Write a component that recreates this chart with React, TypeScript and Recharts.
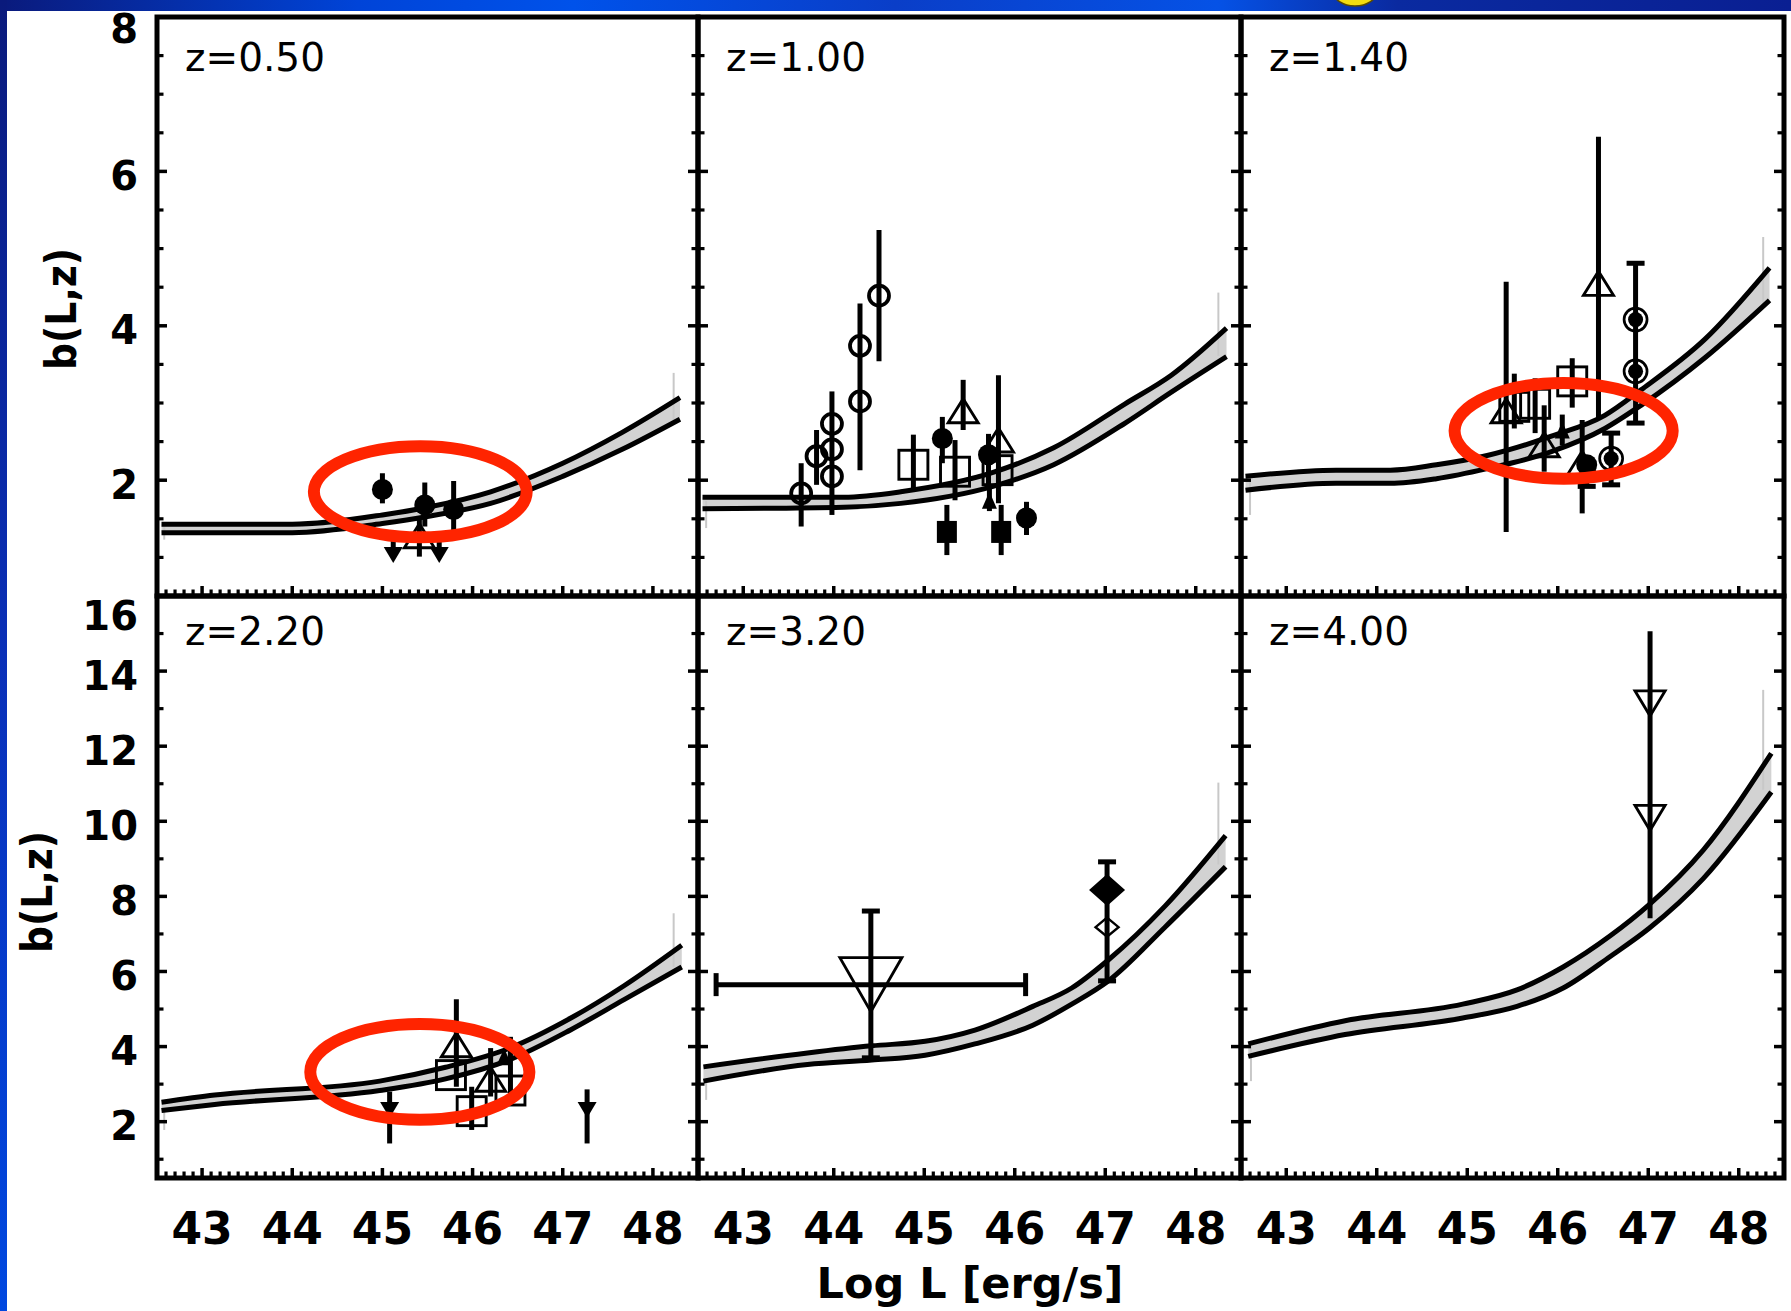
import React from 'react';
import { ComposedChart, Area, Line, Scatter, XAxis, YAxis, ErrorBar, ReferenceArea, ReferenceLine } from 'recharts';

const FONT = '"DejaVu Sans", Verdana, sans-serif';
const FONT_COND = '"DejaVu Sans Condensed", "DejaVu Sans", sans-serif';

// ---------- axis ticks ----------
const xMajorTicks = [43, 44, 45, 46, 47, 48];
const xMinorTicks: number[] = [];
for (let i = 426; i <= 484; i++) if (i % 10 !== 0) xMinorTicks.push(i / 10);
const yMajorTicksTop = [2, 4, 6, 8];
const yMinorTicksTop = [1, 1.5, 2.5, 3, 3.5, 4.5, 5, 5.5, 6.5, 7, 7.5];
const yMajorTicksBottom = [2, 4, 6, 8, 10, 12, 14, 16];
const yMinorTicksBottom = [1, 3, 5, 7, 9, 11, 13, 15];
const xDomain = [42.5, 48.5];
const yDomainTop = [0.5, 8];
const yDomainBottom = [0.5, 16];

// ---------- panel labels / titles ----------
const panelLabels = ['z=0.50', 'z=1.00', 'z=1.40', 'z=2.20', 'z=3.20', 'z=4.00'];
const xTitle = 'Log L [erg/s]';
const yTitle = 'b(L,z)';

// ---------- model bands: Log L, upper curve, lower curve ----------
const z050L = [42.55, 44.0, 45.0, 45.5, 46.2, 47.0, 47.66, 48.3];
const z050Hi = [1.43, 1.43, 1.55, 1.65, 1.85, 2.22, 2.62, 3.07];
const z050Lo = [1.32, 1.32, 1.44, 1.53, 1.7, 2.05, 2.4, 2.79];

const z100L = [42.55, 44.11, 44.74, 45.76, 46.43, 47.22, 47.73, 48.34];
const z100Hi = [1.78, 1.78, 1.85, 2.1, 2.42, 2.99, 3.36, 3.97];
const z100Lo = [1.63, 1.65, 1.7, 1.92, 2.2, 2.74, 3.14, 3.6];

const z140L = [42.55, 43.55, 44.15, 44.66, 45.22, 45.93, 46.52, 46.92, 47.63, 48.34];
const z140Hi = [2.05, 2.13, 2.13, 2.2, 2.32, 2.57, 2.84, 3.17, 3.83, 4.75];
const z140Lo = [1.87, 1.96, 1.96, 2.02, 2.15, 2.37, 2.67, 2.97, 3.59, 4.33];

const z220L = [42.55, 43.14, 44.97, 45.7, 46.4, 47.09, 47.68, 48.32];
const z220Hi = [2.52, 2.71, 3.08, 3.45, 3.95, 4.76, 5.62, 6.7];
const z220Lo = [2.3, 2.46, 2.83, 3.14, 3.64, 4.45, 5.25, 6.12];

const z320L = [42.56, 43.71, 44.42, 45.01, 45.56, 46.2, 46.63, 47.03, 47.66, 48.33];
const z320Hi = [3.46, 3.83, 4.02, 4.14, 4.44, 5.07, 5.56, 6.3, 7.74, 9.62];
const z320Lo = [3.08, 3.52, 3.64, 3.77, 4.07, 4.57, 5.13, 5.74, 7.18, 8.79];

const z400L = [42.58, 43.65, 44.95, 45.55, 46.06, 46.58, 47.01, 47.61, 48.36];
const z400Hi = [4.07, 4.69, 5.13, 5.51, 6.12, 6.95, 7.78, 9.24, 11.81];
const z400Lo = [3.74, 4.32, 4.76, 5.07, 5.56, 6.4, 7.15, 8.48, 10.78];

// thin grey edges of the shaded band polygons: [Log L, b top, b bottom]
const z050Edges = [[42.58, 1.43, 1.23], [48.23, 3.39, 2.77]];
const z100Edges = [[42.59, 1.73, 1.38], [48.25, 4.43, 3.61]];
const z140Edges = [[42.6, 2.05, 1.55], [48.27, 5.15, 4.3]];
const z220Edges = [[42.58, 2.27, 1.78], [48.23, 7.55, 6.12]];
const z320Edges = [[42.59, 3.14, 2.58], [48.25, 11.03, 8.85]];
const z400Edges = [[42.61, 4.02, 3.08], [48.27, 13.5, 10.84]];

// ---------- measurements ----------
type Pt = { kind: string; L: number; b: number; lo?: number; hi?: number; Llo?: number; Lhi?: number; cap?: boolean };

const z050Points: Pt[] = [
  { kind: 'filledCircle', L: 45.0, b: 1.88, lo: 1.7, hi: 2.09 },
  { kind: 'filledCircle', L: 45.47, b: 1.68, lo: 1.4, hi: 1.97 },
  { kind: 'filledCircle', L: 45.79, b: 1.62, lo: 1.33, hi: 1.99 },
  { kind: 'openTriUp', L: 45.41, b: 1.28, lo: 1.01, hi: 1.53 },
  { kind: 'filledTriDown', L: 45.12, b: 1.03, lo: 1.03, hi: 1.3 },
  { kind: 'filledTriDown', L: 45.63, b: 1.03, lo: 1.03, hi: 1.3 },
];

const z100Points: Pt[] = [
  { kind: 'openCircle', L: 43.64, b: 1.83, lo: 1.4, hi: 2.22 },
  { kind: 'openCircle', L: 43.81, b: 2.31, lo: 1.94, hi: 2.65 },
  { kind: 'openCircle', L: 43.98, b: 2.73, lo: 1.55, hi: 3.15 },
  { kind: 'openCircle', L: 43.98, b: 2.4 },
  { kind: 'openCircle', L: 43.98, b: 2.05 },
  { kind: 'openCircle', L: 44.29, b: 3.02, lo: 2.13, hi: 4.29 },
  { kind: 'openCircle', L: 44.29, b: 3.74 },
  { kind: 'openCircle', L: 44.5, b: 4.39, lo: 3.54, hi: 5.24 },
  { kind: 'openSquare', L: 44.88, b: 2.2, lo: 1.89, hi: 2.59 },
  { kind: 'openSquare', L: 45.34, b: 2.11, lo: 1.74, hi: 2.52 },
  { kind: 'openSquare', L: 45.81, b: 2.13 },
  { kind: 'filledCircle', L: 45.2, b: 2.54, lo: 2.22, hi: 2.82 },
  { kind: 'filledCircle', L: 46.13, b: 1.51, lo: 1.29, hi: 1.72 },
  { kind: 'filledCircle', L: 45.71, b: 2.33, lo: 1.9, hi: 2.6 },
  { kind: 'openTriUp', L: 45.43, b: 2.9, lo: 2.65, hi: 3.3 },
  { kind: 'openTriUp', L: 45.82, b: 2.52, lo: 1.7, hi: 3.36 },
  { kind: 'filledTriUp', L: 45.72, b: 1.74, lo: 1.6, hi: 1.9 },
  { kind: 'filledSquare', L: 45.25, b: 1.33, lo: 1.03, hi: 1.68 },
  { kind: 'filledSquare', L: 45.85, b: 1.33, lo: 1.03, hi: 1.68 },
];

const z140Points: Pt[] = [
  { kind: 'openTriUp', L: 45.43, b: 2.9, lo: 1.33, hi: 4.57 },
  { kind: 'openSquare', L: 45.52, b: 2.95, lo: 2.67, hi: 3.38 },
  { kind: 'openSquare', L: 45.75, b: 2.99, lo: 2.61, hi: 3.32 },
  { kind: 'openSquare', L: 46.16, b: 3.28, lo: 2.94, hi: 3.58 },
  { kind: 'openTriUp', L: 46.45, b: 4.55, lo: 2.82, hi: 6.45 },
  { kind: 'openTriUp', L: 45.85, b: 2.46, lo: 2.11, hi: 2.97 },
  { kind: 'filledTriUp', L: 46.05, b: 2.65, lo: 2.45, hi: 2.85 },
  { kind: 'openTriUp', L: 46.27, b: 2.22, lo: 1.57, hi: 2.78 },
  { kind: 'filledCircle', L: 46.32, b: 2.2, lo: 1.92, hi: 2.2, cap: true },
  { kind: 'ringDot', L: 46.59, b: 2.28, lo: 1.94, hi: 2.61, cap: true },
  { kind: 'ringDot', L: 46.86, b: 4.08, lo: 2.74, hi: 4.81, cap: true },
  { kind: 'ringDot', L: 46.86, b: 3.41 },
];

const z220Points: Pt[] = [
  { kind: 'filledTriDown', L: 45.08, b: 2.31, lo: 1.42, hi: 2.8 },
  { kind: 'filledTriDown', L: 47.27, b: 2.31, lo: 1.42, hi: 2.86 },
  { kind: 'openTriUp', L: 45.82, b: 4.05, lo: 2.93, hi: 5.26 },
  { kind: 'openSquare', L: 45.76, b: 3.24 },
  { kind: 'openSquare', L: 45.99, b: 2.28, lo: 1.78, hi: 2.93 },
  { kind: 'openTriUp', L: 46.2, b: 3.13, lo: 2.67, hi: 3.96 },
  { kind: 'openSquare', L: 46.42, b: 2.83, lo: 2.67, hi: 4.26 },
  { kind: 'filledTriUp', L: 46.35, b: 3.73 },
];

const z320Points: Pt[] = [
  { kind: 'openTriDownBig', L: 44.41, b: 5.65, lo: 3.7, hi: 7.61, Llo: 42.7, Lhi: 46.12, cap: true },
  { kind: 'filledDiamond', L: 47.02, b: 8.17, lo: 5.75, hi: 8.92, cap: true },
  { kind: 'openDiamond', L: 47.02, b: 7.18 },
];

const z400Points: Pt[] = [
  { kind: 'openTriDown', L: 47.02, b: 13.14, lo: 7.42, hi: 15.06 },
  { kind: 'openTriDown', L: 47.02, b: 10.09 },
];

// ---------- annotation ellipses (Log L range, b range) ----------
const z050Ring = [44.24, 46.6, 1.26, 2.44];
const z140Ring = [44.86, 47.27, 2.02, 3.26];
const z220Ring = [44.2, 46.63, 2.05, 4.6];

// ---------- layout ----------
const COL_LEFT = [157, 698, 1241];
const COL_W = [541, 543, 543];
const ROW_TOP = [17, 596];
const ROW_H = [579, 582];

type PanelCfg = {
  row: number; col: number; L: number[]; hi: number[]; lo: number[]; edges: number[][]; points: Pt[]; ring?: number[]; label: string;
};

const panels: PanelCfg[] = [
  { row: 0, col: 0, L: z050L, hi: z050Hi, lo: z050Lo, edges: z050Edges, points: z050Points, ring: z050Ring, label: panelLabels[0] },
  { row: 0, col: 1, L: z100L, hi: z100Hi, lo: z100Lo, edges: z100Edges, points: z100Points, label: panelLabels[1] },
  { row: 0, col: 2, L: z140L, hi: z140Hi, lo: z140Lo, edges: z140Edges, points: z140Points, ring: z140Ring, label: panelLabels[2] },
  { row: 1, col: 0, L: z220L, hi: z220Hi, lo: z220Lo, edges: z220Edges, points: z220Points, ring: z220Ring, label: panelLabels[3] },
  { row: 1, col: 1, L: z320L, hi: z320Hi, lo: z320Lo, edges: z320Edges, points: z320Points, label: panelLabels[4] },
  { row: 1, col: 2, L: z400L, hi: z400Hi, lo: z400Lo, edges: z400Edges, points: z400Points, label: panelLabels[5] },
];

const MAJOR_LEN = 10;
const MINOR_LEN = 6.5;
const BAR_W = 5;
const near = (a: number, b: number) => Math.abs(a - b) < 1e-6;

function makeXTick(side: 'top' | 'bottom', showLabel: boolean) {
  return (p: any) => {
    const { x, y, payload } = p;
    const v = payload.value as number;
    const major = xMajorTicks.some((m) => near(m, v));
    const len = major ? MAJOR_LEN : MINOR_LEN;
    const dir = side === 'bottom' ? -1 : 1;
    return (
      <g>
        <line x1={x} y1={y} x2={x} y2={y + dir * len} stroke="#000" strokeWidth={major ? 3.5 : 3.2} />
        {showLabel && major && (
          <text x={x} y={y + 66} textAnchor="middle" fontFamily={FONT} fontWeight="bold" fontSize={44} fill="#000" stroke="none">
            {v}
          </text>
        )}
      </g>
    );
  };
}

function makeYTick(side: 'left' | 'right', majors: number[], showLabel: boolean, topVal: number, topShift: number) {
  return (p: any) => {
    const { x, y, payload } = p;
    const v = payload.value as number;
    const major = majors.some((m) => near(m, v));
    const len = major ? MAJOR_LEN : MINOR_LEN;
    const dir = side === 'left' ? 1 : -1;
    const center = near(v, topVal) ? y + topShift : y + 4;
    return (
      <g>
        <line x1={x} y1={y} x2={x + dir * len} y2={y} stroke="#000" strokeWidth={major ? 3.5 : 3.2} />
        {showLabel && major && (
          <text x={x - 19} y={center + 14.5} textAnchor="end" fontFamily={FONT} fontWeight="bold" fontSize={40} fill="#000" stroke="none">
            {v}
          </text>
        )}
      </g>
    );
  };
}

function triPath(cx: number, cy: number, w: number, h: number, up: boolean) {
  const t = cy - h / 2;
  const bt = cy + h / 2;
  if (up) return `M${cx - w / 2},${bt} L${cx},${t} L${cx + w / 2},${bt} Z`;
  return `M${cx - w / 2},${t} L${cx},${bt} L${cx + w / 2},${t} Z`;
}
function diamondPath(cx: number, cy: number, w: number, h: number) {
  return `M${cx},${cy - h / 2} L${cx + w / 2},${cy} L${cx},${cy + h / 2} L${cx - w / 2},${cy} Z`;
}

function drawMarker(kind: string, cx: number, cy: number) {
  if (cx == null || cy == null || isNaN(cx) || isNaN(cy)) return <g />;
  const k = '#000';
  switch (kind) {
    case 'filledCircle':
      return <circle cx={cx} cy={cy} r={10.5} fill={k} />;
    case 'openCircle':
      return <circle cx={cx} cy={cy} r={10} fill="none" stroke={k} strokeWidth={3.8} />;
    case 'ringDot':
      return (
        <g>
          <circle cx={cx} cy={cy} r={11.5} fill="none" stroke={k} strokeWidth={2.7} />
          <circle cx={cx} cy={cy} r={7.5} fill={k} />
        </g>
      );
    case 'openSquare':
      return <rect x={cx - 14.5} y={cy - 14.5} width={29} height={29} fill="none" stroke={k} strokeWidth={2.9} />;
    case 'filledSquare':
      return <rect x={cx - 10} y={cy - 11} width={20} height={22} fill={k} />;
    case 'openTriUp':
      return <path d={triPath(cx, cy, 30, 24, true)} fill="none" stroke={k} strokeWidth={2.9} />;
    case 'filledTriUp':
      return <path d={triPath(cx, cy, 15, 17, true)} fill={k} />;
    case 'filledTriDown':
      return <path d={triPath(cx, cy, 19, 16, false)} fill={k} />;
    case 'openTriDown':
      return <path d={triPath(cx, cy, 30, 25, false)} fill="none" stroke={k} strokeWidth={2.9} />;
    case 'openTriDownBig':
      return <path d={triPath(cx, cy, 62, 54, false)} fill="none" stroke={k} strokeWidth={2.9} />;
    case 'filledDiamond':
      return <path d={diamondPath(cx, cy, 36, 32)} fill={k} />;
    case 'openDiamond':
      return <path d={diamondPath(cx, cy, 23, 19)} fill="none" stroke={k} strokeWidth={2.4} />;
    default:
      return <circle cx={cx} cy={cy} r={5} fill={k} />;
  }
}

function groupPoints(points: Pt[]) {
  const order: string[] = [];
  const map: Record<string, { kind: string; cap: boolean; hasX: boolean; rows: any[] }> = {};
  points.forEach((p) => {
    const key = p.kind + (p.cap ? '|cap' : '');
    if (!map[key]) {
      map[key] = { kind: p.kind, cap: !!p.cap, hasX: false, rows: [] };
      order.push(key);
    }
    const lo = p.lo ?? p.b;
    const hi = p.hi ?? p.b;
    const Llo = p.Llo ?? p.L;
    const Lhi = p.Lhi ?? p.L;
    if (p.Llo != null) map[key].hasX = true;
    map[key].rows.push({ L: p.L, b: p.b, yErr: [p.b - lo, hi - p.b], xErr: [p.L - Llo, Lhi - p.L] });
  });
  return order.map((key) => ({ key, ...map[key] }));
}

function Panel({ cfg }: { cfg: PanelCfg }) {
  const P = 100;
  const isTop = cfg.row === 0;
  const left = COL_LEFT[cfg.col];
  const top = ROW_TOP[cfg.row];
  const w = COL_W[cfg.col];
  const h = ROW_H[cfg.row];
  const yMajor = isTop ? yMajorTicksTop : yMajorTicksBottom;
  const yMinor = isTop ? yMinorTicksTop : yMinorTicksBottom;
  const yTicks = [...yMajor, ...yMinor].sort((a, b) => a - b);
  const xTicks = [...xMajorTicks, ...xMinorTicks].sort((a, b) => a - b);
  const yDom = isTop ? yDomainTop : yDomainBottom;
  const topShift = isTop ? 11.5 : 19;
  const data = cfg.L.map((L, i) => ({ L, hi: cfg.hi[i], lo: cfg.lo[i], band: [cfg.lo[i], cfg.hi[i]] }));
  const groups = groupPoints(cfg.points);
  const ring = cfg.ring;

  return (
    <div style={{ position: 'absolute', left: left - P, top: top - P }}>
      <ComposedChart
        width={w + 2 * P}
        height={h + 2 * P}
        data={data}
        margin={{ top: P - 1, right: P - 1, bottom: P - 1, left: P - 1 }}
      >
        <XAxis
          dataKey="L" type="number" domain={xDomain} allowDataOverflow ticks={xTicks} interval={0}
          height={1} tickSize={0} tickMargin={0} axisLine={false} tickLine={false}
          tick={makeXTick('bottom', cfg.row === 1)}
        />
        <XAxis
          xAxisId="t" orientation="top" type="number" domain={xDomain} allowDataOverflow ticks={xTicks} interval={0}
          height={1} tickSize={0} tickMargin={0} axisLine={false} tickLine={false}
          tick={makeXTick('top', false)}
        />
        <YAxis
          dataKey="b" type="number" domain={yDom} allowDataOverflow ticks={yTicks} interval={0}
          width={1} tickSize={0} tickMargin={0} axisLine={false} tickLine={false}
          tick={makeYTick('left', yMajor, cfg.col === 0, yDom[1], topShift)}
        />
        <YAxis
          yAxisId="r" orientation="right" type="number" domain={yDom} allowDataOverflow ticks={yTicks} interval={0}
          width={1} tickSize={0} tickMargin={0} axisLine={false} tickLine={false}
          tick={makeYTick('right', yMajor, false, yDom[1], topShift)}
        />
        <Area dataKey="band" type="monotone" fill="#d2d2d2" fillOpacity={1} stroke="none" isAnimationActive={false} activeDot={false} />
        {cfg.edges.map((e, i) => (
          <ReferenceLine key={`e${i}`} segment={[{ x: e[0], y: e[1] }, { x: e[0], y: e[2] }]} stroke="#c8c8c8" strokeWidth={2} />
        ))}
        <Line dataKey="hi" type="monotone" stroke="#000" strokeWidth={5} dot={false} activeDot={false} isAnimationActive={false} />
        <Line dataKey="lo" type="monotone" stroke="#000" strokeWidth={5} dot={false} activeDot={false} isAnimationActive={false} />
        {groups.map((g) => (
          <Scatter
            key={g.key}
            data={g.rows}
            dataKey="b"
            isAnimationActive={false}
            shape={(p: any) => drawMarker(g.kind, p.cx, p.cy)}
          >
            <ErrorBar
              dataKey="yErr" direction="y" width={g.cap ? 9 : 0}
              stroke="#000" strokeWidth={BAR_W} style={{ strokeWidth: BAR_W }} isAnimationActive={false}
            />
            {g.hasX && (
              <ErrorBar
                dataKey="xErr" direction="x" width={11.5}
                stroke="#000" strokeWidth={BAR_W} style={{ strokeWidth: BAR_W }} isAnimationActive={false}
              />
            )}
          </Scatter>
        ))}
        <ReferenceArea
          x1={xDomain[0]} x2={xDomain[1]} y1={yDom[0]} y2={yDom[1]}
          fill="none" stroke="#000" strokeWidth={5} ifOverflow="visible" zIndex={1800}
        />
        {ring && (
          <ReferenceArea
            x1={ring[0]} x2={ring[1]} y1={ring[2]} y2={ring[3]} ifOverflow="visible" zIndex={1900}
            shape={(p: any) => {
              const rw = Math.abs(p.width);
              const rh = Math.abs(p.height);
              const rx0 = Math.min(p.x, p.x + p.width);
              const ry0 = Math.min(p.y, p.y + p.height);
              return (
                <ellipse cx={rx0 + rw / 2} cy={ry0 + rh / 2} rx={rw / 2} ry={rh / 2} fill="none" stroke="#ff2400" strokeWidth={12} />
              );
            }}
          />
        )}
      </ComposedChart>
    </div>
  );
}

export default function App() {
  return (
    <div style={{ position: 'absolute', left: 0, top: 0, width: 1791, height: 1311, background: '#fff', overflow: 'hidden' }}>
      <svg width={1791} height={1311} style={{ position: 'absolute', left: 0, top: 0 }}>
        <defs>
          <linearGradient id="topbar" x1="0" y1="0" x2="1" y2="0">
            <stop offset="0" stopColor="#0a1a7c" />
            <stop offset="0.2" stopColor="#0044d8" />
            <stop offset="0.32" stopColor="#0052ea" />
            <stop offset="0.5" stopColor="#0a3ec8" />
            <stop offset="0.68" stopColor="#0552e6" />
            <stop offset="0.78" stopColor="#0a2aa0" />
            <stop offset="1" stopColor="#0a1f92" />
          </linearGradient>
          <linearGradient id="leftbar" x1="0" y1="0" x2="0" y2="1">
            <stop offset="0" stopColor="#0a1a7c" />
            <stop offset="0.5" stopColor="#0a30b8" />
            <stop offset="1" stopColor="#0048e0" />
          </linearGradient>
        </defs>
        <rect x={0} y={0} width={1791} height={11} fill="url(#topbar)" />
        <rect x={0} y={0} width={7} height={1311} fill="url(#leftbar)" />
        <ellipse cx={1355} cy={-9} rx={22} ry={15} fill="#f3dc10" stroke="#5a4a00" strokeWidth={1.5} />
      </svg>
      {panels.map((cfg, i) => (
        <Panel key={i} cfg={cfg} />
      ))}
      <svg width={1791} height={1311} style={{ position: 'absolute', left: 0, top: 0, pointerEvents: 'none' }}>
        {panels.map((cfg, i) => (
          <text
            key={i}
            x={COL_LEFT[cfg.col] + 28}
            y={cfg.row === 0 ? 71 : 645}
            fontFamily={FONT}
            fontSize={39}
            fill="#000"
          >
            {cfg.label}
          </text>
        ))}
        <text x={970} y={1298} textAnchor="middle" fontFamily={FONT} fontWeight="bold" fontSize={43} fill="#000">
          {xTitle}
        </text>
        <text x={76} y={309} transform="rotate(-90 76 309)" textAnchor="middle" fontFamily={FONT_COND} fontWeight="bold" fontSize={42} fill="#000">
          {yTitle}
        </text>
        <text x={52} y={892} transform="rotate(-90 52 892)" textAnchor="middle" fontFamily={FONT_COND} fontWeight="bold" fontSize={42} fill="#000">
          {yTitle}
        </text>
      </svg>
    </div>
  );
}
